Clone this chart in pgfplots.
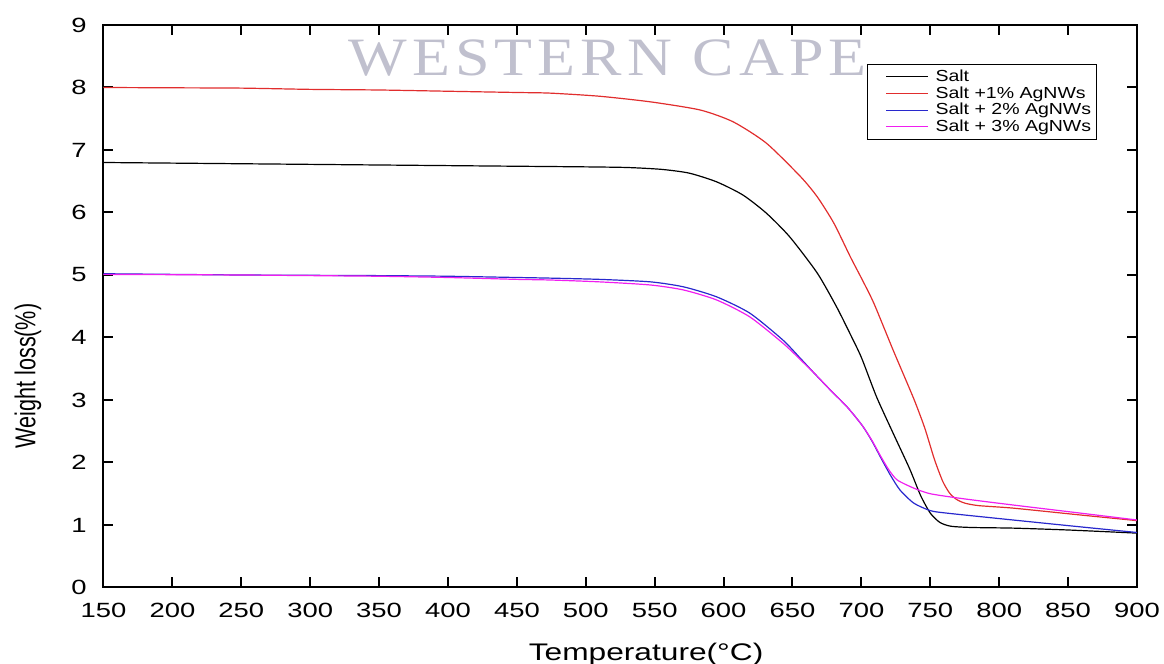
\documentclass[border=0pt]{standalone}
\usepackage{fontspec}
\setmainfont{Liberation Sans}
\newfontfamily\wmfont{Liberation Serif}
\usepackage{graphicx}
\usepackage{pgfplots}
\pgfplotsset{compat=1.18}

\definecolor{cred}{RGB}{225,45,45}
\definecolor{cblue}{RGB}{40,40,205}
\definecolor{cmag}{RGB}{240,30,240}
\definecolor{wm}{RGB}{192,192,206}

\begin{document}
\begin{tikzpicture}
\path[use as bounding box] (-51.75pt,-38.25pt) rectangle (530.25pt,293.75pt);
\begin{axis}[
  at={(0pt,0pt)}, anchor=south west,
  scale only axis, width=516.75pt, height=281.25pt,
  xmin=150, xmax=900, ymin=0, ymax=9,
  xtick={150,200,...,900}, ytick={0,1,...,9},
  tick align=inside, major tick length=5pt,
  major tick style={black, line width=1pt},
  axis line style={line width=1pt},
  /pgf/number format/assume math mode=true,
  xticklabel={\scalebox{1.33}[1]{\pgfmathprintnumber{\tick}}},
  yticklabel={\scalebox{1.33}[1]{\pgfmathprintnumber{\tick}}},
  tick label style={font=\fontsize{10.3}{12}\selectfont},
  xticklabel style={yshift=-4.3pt},
  yticklabel style={xshift=-4.85pt},
  xlabel={\scalebox{1.32}[1]{Temperature(°C)}},
  xlabel style={at={(axis description cs:0.525,0)}, anchor=base, yshift=-36.5pt, font=\fontsize{12}{14}\selectfont},
  ylabel={\scalebox{1}[1.33]{Weight loss(\%)}},
  ylabel style={at={(axis description cs:-0.0731,0.376)}, anchor=center, font=\fontsize{10.8}{12}\selectfont},
  legend style={at={(axis description cs:0.7387,0.9307)}, anchor=north west,
    draw=black, line width=0.5pt, font=\fontsize{8}{9}\selectfont,
    inner xsep=2.75pt, inner ysep=2.5pt, row sep=0.8pt, column sep=3.5pt,
    nodes={inner sep=0pt, text height=6pt, text depth=1.5pt}},
  legend cell align=left,
  legend image code/.code={\path (0pt,0pt); \draw[#1,line width=0.5pt] (6.25pt,0pt) -- (27.25pt,0pt);},
]
\addplot[black, line width=0.6pt, smooth, tension=0.4] coordinates {
(150,6.80)(200,6.79)(250,6.78)(300,6.77)(350,6.76)(400,6.75)(450,6.74)(500,6.73)(530,6.72)(555,6.69)(575,6.63)(595,6.49)(614,6.28)(631,5.99)(648,5.61)(668,5.03)(682,4.49)(692,4.05)(700,3.68)(711,3.05)(723,2.47)(735,1.90)(743,1.47)(750,1.19)(757,1.04)(765,0.98)(780,0.96)(810,0.95)(850,0.92)(900,0.87)
};
\addlegendentry{\scalebox{1.22}[1]{Salt}}
\addplot[cred, line width=0.6pt, smooth, tension=0.4] coordinates {
(150,8.00)(200,7.995)(250,7.99)(300,7.97)(350,7.96)(400,7.94)(450,7.92)(474,7.91)(510,7.86)(547,7.77)(583,7.64)(607,7.45)(631,7.11)(656,6.57)(668,6.25)(680,5.83)(692,5.29)(700,4.95)(709,4.55)(723,3.80)(738,3.02)(746,2.55)(753,2.05)(759,1.70)(764,1.51)(769,1.41)(775,1.35)(785,1.31)(810,1.27)(859,1.16)(900,1.07)
};
\addlegendentry{\scalebox{1.22}[1]{Salt +1\% AgNWs}}
\addplot[cblue, line width=0.6pt, smooth, tension=0.4] coordinates {
(150,5.02)(200,5.01)(250,5.00)(300,4.995)(350,4.99)(400,4.98)(450,4.96)(474,4.95)(510,4.93)(547,4.89)(571,4.81)(595,4.65)(619,4.39)(643,3.96)(656,3.66)(667,3.40)(677,3.17)(690,2.88)(701,2.58)(708,2.33)(714,2.08)(721,1.80)(728,1.56)(738,1.35)(750,1.23)(762,1.19)(810,1.08)(859,0.97)(900,0.88)
};
\addlegendentry{\scalebox{1.22}[1]{Salt + 2\% AgNWs}}
\addplot[cmag, line width=0.6pt, smooth, tension=0.4] coordinates {
(150,5.01)(200,5.005)(250,5.00)(300,4.99)(350,4.98)(400,4.96)(450,4.93)(474,4.92)(510,4.89)(547,4.84)(571,4.76)(595,4.60)(619,4.33)(643,3.91)(656,3.64)(667,3.40)(677,3.17)(690,2.88)(701,2.58)(708,2.34)(714,2.10)(720,1.88)(726,1.72)(738,1.59)(750,1.50)(774,1.42)(810,1.32)(859,1.19)(900,1.08)
};
\addlegendentry{\scalebox{1.22}[1]{Salt + 3\% AgNWs}}
\end{axis}
\node[text=wm, inner sep=0pt] at (252pt,264.75pt) {\scalebox{1.15}[1]{\fontsize{27}{30}\wmfont W\kern2.2pt E\kern2.2pt S\kern2.2pt T\kern2.2pt E\kern2.2pt R\kern2.2pt N\kern9pt C\kern2.2pt A\kern2.2pt P\kern2.2pt E}};
\end{tikzpicture}
\end{document}
